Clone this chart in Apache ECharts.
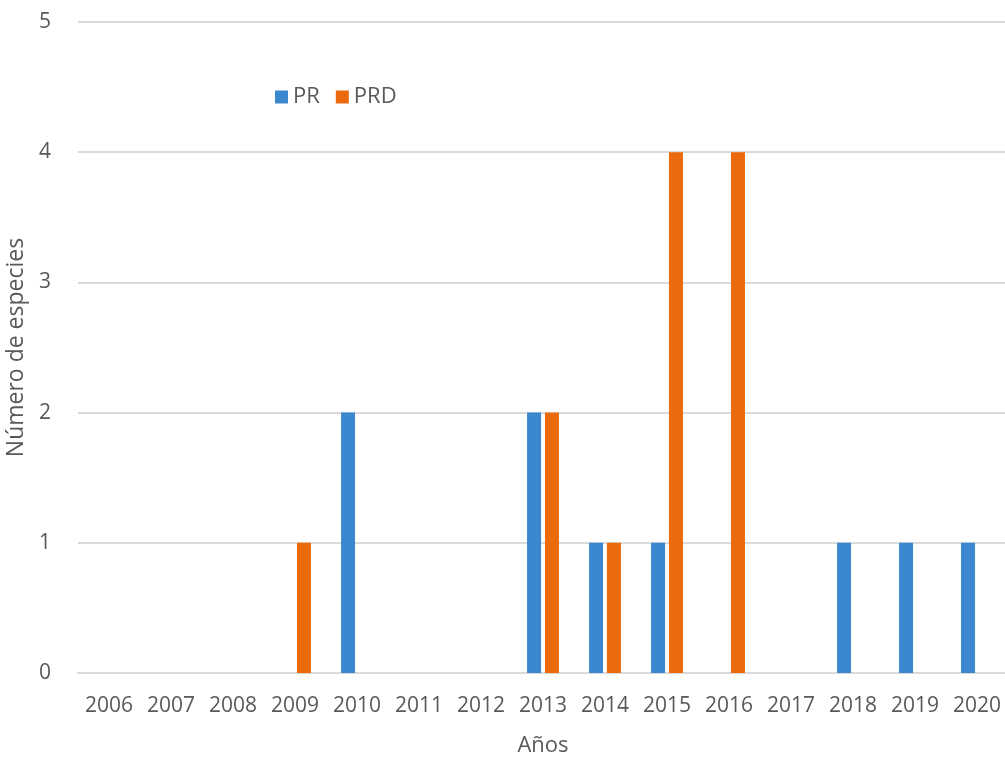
<!DOCTYPE html>
<html><head><meta charset="utf-8">
<script src="https://cdn.jsdelivr.net/npm/echarts@6/dist/echarts.min.js"></script>
<style>html,body{margin:0;padding:0;background:#fff}#c{width:1005px;height:759px}</style>
</head><body><div id="c"></div>
<script>
const years = ['2006','2007','2008','2009','2010','2011','2012','2013','2014','2015','2016','2017','2018','2019','2020'];
const prValues  = [0,0,0,0,2,0,0,2,1,1,0,0,1,1,1];
const prdValues = [0,0,0,1,0,0,0,2,1,4,4,0,0,0,0];
const yTicks = [0,1,2,3,4,5];
const FONT = 'Open Sans';
const TXT = '#595959';
const chart = echarts.init(document.getElementById('c'), null, {renderer:'canvas'});
chart.setOption({
  animation:false,
  textStyle:{fontFamily:FONT},
  grid:{left:78, top:22, width:930, height:651, containLabel:false, outerBoundsMode:'none'},
  legend:{
    data:['PR','PRD'], left:270, top:81, itemWidth:13, itemHeight:13, itemGap:16,
    icon:'rect', textStyle:{fontFamily:FONT, fontSize:22, color:TXT}
  },
  xAxis:{
    type:'category', data:years,
    name:'Años', nameLocation:'middle', nameGap:62,
    nameTextStyle:{fontFamily:FONT, fontSize:22, color:TXT},
    axisLine:{lineStyle:{color:'#d9d9d9', width:2}},
    axisTick:{show:false},
    axisLabel:{interval:0, fontFamily:FONT, fontSize:21, color:TXT, margin:23}
  },
  yAxis:{
    type:'value', min:yTicks[0], max:yTicks[yTicks.length-1], interval:1,
    name:'Número de especies', nameLocation:'middle', nameGap:46, nameRotate:90,
    nameTextStyle:{fontFamily:FONT, fontSize:23, color:TXT},
    axisLine:{show:false}, axisTick:{show:false},
    axisLabel:{fontFamily:FONT, fontSize:21, color:TXT, margin:27},
    splitLine:{lineStyle:{color:'#d9d9d9', width:2}}
  },
  series:[
    {name:'PR', type:'bar', data:prValues, barWidth:14, barGap:'28%',
     itemStyle:{color:'#3b88cf'}},
    {name:'PRD', type:'bar', data:prdValues, barWidth:14, barGap:'28%',
     itemStyle:{color:'#eb6a0b'}}
  ]
});
</script></body></html>
